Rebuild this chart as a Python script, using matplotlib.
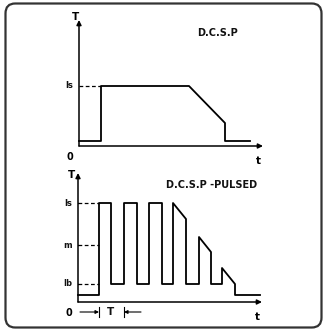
import matplotlib
matplotlib.use("Agg")
import matplotlib.pyplot as plt
from matplotlib.patches import FancyBboxPatch

# D.C.S.P waveform (time, current)
dc_t = [0, 2.2, 2.2, 11.0, 14.6, 14.6, 17.1]
dc_i = [0.5, 0.5, 6.0, 6.0, 2.3, 0.5, 0.5]
dc_is = 6.0

# D.C.S.P pulsed waveform
pl_t = [0, 2.1, 2.1, 3.3, 3.3, 4.6, 4.6, 5.9, 5.9, 7.1, 7.1, 8.4, 8.4,
        9.5, 9.5, 10.8, 10.8, 12.1, 12.1, 13.3, 13.3, 14.4, 14.4, 15.7, 15.7, 18.2]
pl_i = [0.7, 0.7, 9.9, 9.9, 1.8, 1.8, 9.9, 9.9, 1.8, 1.8, 9.9, 9.9, 1.8,
        1.8, 9.9, 8.3, 1.8, 1.8, 6.5, 5.0, 1.8, 1.8, 3.4, 1.8, 0.7, 0.7]
pl_levels = [9.9, 5.7, 1.8]
pl_names = ["Is", "m", "Ib"]
period_start, period_end = 2.1, 4.6

W, H = 323, 331
fig = plt.figure(figsize=(W / 100, H / 100), dpi=100)

frame = FancyBboxPatch((5.5 / W, 3.5 / H), 316 / W, 324 / H,
                       boxstyle="round,pad=0,rounding_size=0.03",
                       transform=fig.transFigure, fill=False,
                       edgecolor="#333333", linewidth=1.6)
fig.patches.append(frame)


def make_axes(left, bottom, w, h, t_dx, t_dy):
    ax = fig.add_axes([left / W, (H - bottom) / H, w / W, h / H])
    ax.set_xlim(0, w / 10)
    ax.set_ylim(0, h / 10)
    ax.axis("off")
    arrow = dict(arrowstyle="-|>", color="black", lw=1.1,
                 mutation_scale=7, shrinkA=0, shrinkB=0)
    ax.annotate("", xy=(w / 10, 0), xytext=(0, 0), arrowprops=arrow)
    ax.annotate("", xy=(0, h / 10), xytext=(0, 0), arrowprops=arrow)
    ax.text(t_dx, h / 10 + t_dy, "T", fontsize=7.5, fontweight="bold",
            ha="center", va="center")
    ax.text(w / 10 - 0.5, -1.0, "t", fontsize=7.5, fontweight="bold",
            ha="center", va="top")
    ax.text(-0.9, -0.6, "0", fontsize=7, fontweight="bold",
            ha="center", va="top")
    return ax


bold = dict(fontweight="bold", color="#111111")

# top panel
ax1 = make_axes(79, 146, 184, 126, -0.4, 0.3)
ax1.plot(dc_t, dc_i, color="black", lw=1.3, clip_on=False)
ax1.plot([0, dc_t[1]], [dc_is, dc_is], color="black", lw=0.9,
         ls=(0, (3, 2)))
ax1.text(-0.6, dc_is, "Is", fontsize=6, ha="right", va="center", **bold)
ax1.text(13.8, 11.3, "D.C.S.P", fontsize=7, ha="center", va="center", **bold)

# bottom panel
ax2 = make_axes(78, 302, 184, 129, -0.6, -0.2)
ax2.plot(pl_t, pl_i, color="black", lw=1.3, clip_on=False)
for lev, name in zip(pl_levels, pl_names):
    ax2.plot([0, pl_t[1]], [lev, lev], color="black", lw=0.9,
             ls=(0, (3, 2)))
    ax2.plot([-0.2, 0], [lev, lev], color="black", lw=0.9)
    ax2.text(-0.6, lev, name, fontsize=6, ha="right", va="center", **bold)
ax2.text(13.4, 11.7, "D.C.S.P -PULSED", fontsize=7,
         ha="center", va="center", **bold)

# period marker
ya = -1.0
small = dict(arrowstyle="-|>", color="black", lw=0.8, mutation_scale=5,
             shrinkA=0, shrinkB=0)
ax2.annotate("", xy=(period_start, ya), xytext=(period_start - 1.9, ya),
             arrowprops=small, annotation_clip=False)
ax2.annotate("", xy=(period_end, ya), xytext=(period_end + 1.7, ya),
             arrowprops=small, annotation_clip=False)
for x in (period_start, period_end):
    ax2.plot([x, x], [ya - 0.5, ya + 0.5], color="black", lw=0.8,
             clip_on=False)
ax2.text((period_start + period_end) / 2 - 0.1, ya, "T", fontsize=7.5,
         ha="center", va="center", **bold)

fig.savefig("out.png", dpi=100)
